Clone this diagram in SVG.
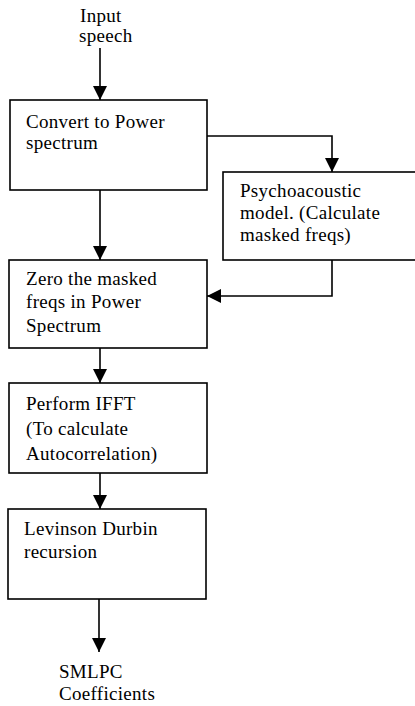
<svg xmlns="http://www.w3.org/2000/svg" width="415" height="706" viewBox="0 0 415 706">
<style>
.box{fill:#fff;stroke:#000;stroke-width:1.6}
.ln{fill:none;stroke:#000;stroke-width:1.6}
text{font-family:"Liberation Serif","Times New Roman",serif;font-size:19px;letter-spacing:0.3px;fill:#000}
</style>
<defs>
<marker id="ah" viewBox="0 0 14 14" refX="14" refY="7" markerWidth="14" markerHeight="14" markerUnits="userSpaceOnUse" orient="auto">
<path d="M0,0 L14,7 L0,14 Z" fill="#000"/>
</marker>
</defs>
<rect width="415" height="706" fill="#fff"/>
<g id="connectors">
<path class="ln" d="M100,48 V100" marker-end="url(#ah)"/>
<path class="ln" d="M207,136 H332 V172" marker-end="url(#ah)"/>
<path class="ln" d="M100,190 V260" marker-end="url(#ah)"/>
<path class="ln" d="M332,260 V296 H207" marker-end="url(#ah)"/>
<path class="ln" d="M100,348 V383" marker-end="url(#ah)"/>
<path class="ln" d="M100,473 V509" marker-end="url(#ah)"/>
<path class="ln" d="M99,599 V652" marker-end="url(#ah)"/>
</g>
<g id="input">
<text x="80" y="22">Input</text>
<text x="79" y="42">speech</text>
</g>
<g id="power">
<rect class="box" x="10" y="100" width="197" height="90"/>
<text x="26" y="128">Convert to Power</text>
<text x="26" y="149">spectrum</text>
</g>
<g id="psycho">
<rect class="box" x="223" y="172" width="200" height="88"/>
<text x="240" y="197">Psychoacoustic</text>
<text x="240" y="219">model. (Calculate</text>
<text x="240" y="241">masked freqs)</text>
</g>
<g id="zero">
<rect class="box" x="9" y="260" width="198" height="88"/>
<text x="26" y="285">Zero the masked</text>
<text x="26" y="308">freqs in Power</text>
<text x="26" y="332">Spectrum</text>
</g>
<g id="ifft">
<rect class="box" x="9" y="383" width="198" height="90"/>
<text x="26" y="410">Perform IFFT</text>
<text x="26" y="435">(To calculate</text>
<text x="26" y="460">Autocorrelation)</text>
</g>
<g id="levinson">
<rect class="box" x="8" y="509" width="198" height="90"/>
<text x="24" y="535">Levinson Durbin</text>
<text x="24" y="558">recursion</text>
</g>
<g id="output">
<text x="59" y="678">SMLPC</text>
<text x="59" y="700">Coefficients</text>
</g>
</svg>
